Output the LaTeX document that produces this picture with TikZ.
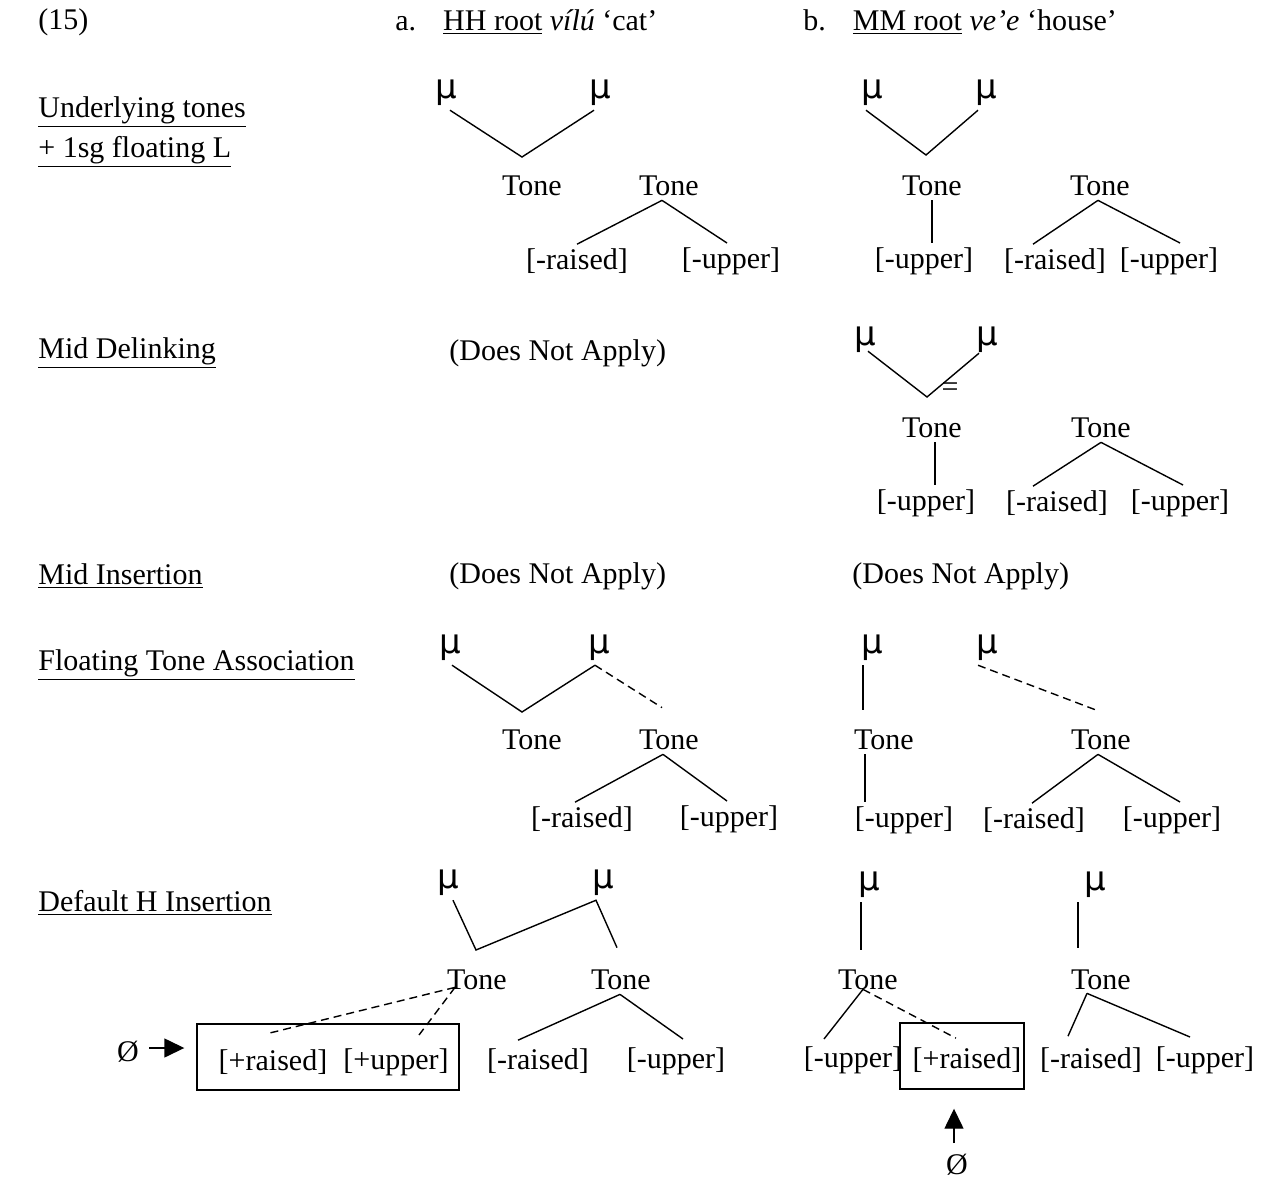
\documentclass[tikz,border=0pt]{standalone}
\usepackage{fontspec}
\setmainfont{Liberation Serif}
\newfontfamily\mufont{DejaVu Sans}
\usetikzlibrary{arrows.meta}

\tikzset{
	gloss/.style={font=\fontsize{15pt}{17pt}\selectfont,inner sep=2pt},
	mu/.style={font=\mufont\fontsize{17pt}{17pt}\selectfont,inner sep=2pt},
	link/.style={line width=0.7pt},
	assoc/.style={line width=0.7pt,dash pattern=on 4pt off 2.5pt},
	boxed/.style={draw,line width=0.7pt,minimum height=33pt},
	nullarrow/.style={line width=0.7pt,-{Triangle[length=10pt,width=9.5pt]}}
}

\begin{document}
\begin{tikzpicture}[x=0.5pt,y=-0.5pt,every node/.style={gloss}]
	\useasboundingbox (0,0) rectangle (1270,1183);
	% header
	\node[anchor=west] (ex) at (34,22) {(15)};
	\node[anchor=west] (hda) at (391,22) {a.\hspace{13.5pt}\underline{HH root} \textit{vílú} ‘cat’};
	\node[anchor=west] (hdb) at (799,22) {b.\hspace{13.5pt}\underline{MM root} \textit{ve’e} ‘house’};
	% rule names
	\node[anchor=west] (r1a) at (34,112) {\underline{Underlying tones}};
	\node[anchor=west] (r1b) at (34,152) {\underline{+ 1sg floating L}};
	\node[anchor=west] (r2) at (34,353) {\underline{Mid Delinking}};
	\node[anchor=west] (r3) at (34,576) {\underline{Mid Insertion}};
	\node[anchor=west] (r4) at (34,665) {\underline{Floating Tone Association}};
	\node[anchor=west] (r5) at (34,903) {\underline{Default H Insertion}};
	\node[anchor=west] (dna1) at (445,353) {(Does Not Apply)};
	\node[anchor=west] (dna2) at (445,576) {(Does Not Apply)};
	\node[anchor=west] (dna3) at (848,576) {(Does Not Apply)};

	% underlying tones, a
	\node[mu] (m1a) at (446,93) {μ};
	\node[mu] (m1b) at (600,93) {μ};
	\coordinate (v1) at (522,157);
	\node (t1a) at (532,186) {Tone};
	\node (t1b) at (669,186) {Tone};
	\node (f1a) at (577,261) {[-raised]};
	\node (f1b) at (731,261) {[-upper]};
	\draw[link] ([xshift=2pt]m1a.south) -- (v1) -- ([xshift=-3pt]m1b.south);
	\draw[link] ([xshift=-3.5pt]t1b.south) -- (f1a.north);
	\draw[link] ([xshift=-3.5pt]t1b.south) -- ([xshift=-2pt]f1b.north);
	% underlying tones, b
	\node[mu] (m1c) at (872,93) {μ};
	\node[mu] (m1d) at (986,93) {μ};
	\coordinate (v2) at (926,155);
	\node (t1c) at (932,186) {Tone};
	\node (t1d) at (1100,186) {Tone};
	\node (f1c) at (924,261) {[-upper]};
	\node (f1d) at (1055,261) {[-raised]};
	\node (f1e) at (1169,261) {[-upper]};
	\draw[link] ([xshift=-3pt]m1c.south) -- (v2) -- ([xshift=-4pt]m1d.south);
	\draw[link] (t1c.south) -- (t1c.south |- f1c.north);
	\draw[link] ([xshift=-1pt]t1d.south) -- ([xshift=-11pt]f1d.north);
	\draw[link] ([xshift=-1pt]t1d.south) -- ([xshift=5.5pt]f1e.north);

	% mid delinking, b
	\node[mu] (m2c) at (865,340) {μ};
	\node[mu] (m2d) at (987,340) {μ};
	\coordinate (v3) at (927,397);
	\node[inner sep=0pt] (cut) at (950,390) {=};
	\node (t2c) at (932,428) {Tone};
	\node (t2d) at (1101,428) {Tone};
	\node (f2c) at (926,503) {[-upper]};
	\node (f2d) at (1057,503) {[-raised]};
	\node (f2e) at (1180,503) {[-upper]};
	\draw[link] ([xshift=1.5pt,yshift=3pt]m2c.south) -- (v3) -- ([xshift=-4pt,yshift=2pt]m2d.south);
	\draw[link] ([xshift=1.5pt]t2c.south) -- ([xshift=1.5pt]t2c.south |- f2c.north);
	\draw[link] (t2d.south) -- ([xshift=-12pt]f2d.north);
	\draw[link] (t2d.south) -- ([xshift=1.5pt]f2e.north);

	% floating tone association, a
	\node[mu] (m4a) at (450,648) {μ};
	\node[mu] (m4b) at (599,648) {μ};
	\coordinate (v4) at (522,712);
	\node (t4a) at (532,740) {Tone};
	\node (t4b) at (669,740) {Tone};
	\node (f4a) at (582,819) {[-raised]};
	\node (f4b) at (729,819) {[-upper]};
	\draw[link] ([xshift=1pt]m4a.south) -- (v4) -- ([xshift=-2pt]m4b.south);
	\draw[assoc] ([xshift=-2pt]m4b.south) -- ([xshift=-3.5pt,yshift=9pt]t4b.north);
	\draw[link] ([xshift=-3pt]t4b.south) -- ([xshift=-3.5pt]f4a.north);
	\draw[link] ([xshift=-3pt]t4b.south) -- ([xshift=-1pt]f4b.north);
	% floating tone association, b
	\node[mu] (m4c) at (872,648) {μ};
	\node[mu] (m4d) at (987,648) {μ};
	\node (t4c) at (884,740) {Tone};
	\node (t4d) at (1101,740) {Tone};
	\node (f4c) at (904,820) {[-upper]};
	\node (f4d) at (1034,820) {[-raised]};
	\node (f4e) at (1172,820) {[-upper]};
	\draw[link] ([xshift=-4.5pt]m4c.south) -- ([xshift=-10.5pt,yshift=8pt]t4c.north);
	\draw[assoc] ([xshift=-4.5pt]m4d.south) -- ([xshift=-3pt,yshift=8pt]t4d.north);
	\draw[link] ([xshift=-9.5pt]t4c.south) -- ([xshift=-9.5pt]t4c.south |- f4c.north);
	\draw[link] ([xshift=-1.5pt]t4d.south) -- ([xshift=-1pt]f4d.north);
	\draw[link] ([xshift=-1.5pt]t4d.south) -- ([xshift=4pt]f4e.north);

	% default H insertion, a
	\node[mu] (m5a) at (448,883) {μ};
	\node[mu] (m5b) at (603,883) {μ};
	\coordinate (v5) at (476,950);
	\node (t5a) at (477,980) {Tone};
	\node (t5b) at (621,980) {Tone};
	\node[boxed,minimum width=131pt] (boxa) at (328,1057) {};
	\node (p5a) at (273,1062) {[+raised]};
	\node (p5b) at (396,1062) {[+upper]};
	\node (f5c) at (538,1061) {[-raised]};
	\node (f5d) at (676,1061) {[-upper]};
	\node (nul1) at (128,1052) {Ø};
	\draw[link] ([xshift=2.5pt]m5a.south) -- (v5) -- ([xshift=-3.5pt]m5b.south) -- ([xshift=-2pt,yshift=9pt]t5b.north);
	\draw[assoc] ([xshift=-11pt,yshift=3.5pt]t5a.south) -- ([xshift=-2pt,yshift=6pt]p5a.north);
	\draw[assoc] ([xshift=-11pt,yshift=3.5pt]t5a.south) -- ([xshift=11.5pt,yshift=4.5pt]p5b.north);
	\draw[link] ([xshift=-0.5pt]t5b.south) -- ([xshift=-10pt,yshift=2pt]f5c.north);
	\draw[link] ([xshift=-0.5pt]t5b.south) -- ([xshift=3.5pt,yshift=2pt]f5d.north);
	\draw[nullarrow] ([xshift=3pt,yshift=2pt]nul1.east) -- ([xshift=-6pt,yshift=4.5pt]boxa.west);
	% default H insertion, b
	\node[mu] (m5c) at (869,885) {μ};
	\node[mu] (m5d) at (1095,885) {μ};
	\node (t5c) at (868,980) {Tone};
	\node (t5d) at (1101,980) {Tone};
	\node[boxed,minimum width=62pt] (boxb) at (962,1056) {};
	\node (f5e) at (853,1060) {[-upper]};
	\node (p5c) at (967,1060) {[+raised]};
	\node (f5g) at (1091,1060) {[-raised]};
	\node (f5h) at (1205,1060) {[-upper]};
	\node (nul2) at (957,1165) {Ø};
	\draw[link] ([xshift=-4pt]m5c.south) -- ([xshift=-3.5pt,yshift=8pt]t5c.north);
	\draw[link] ([xshift=-8.5pt]m5d.south) -- ([xshift=-11.5pt,yshift=9pt]t5d.north);
	\draw[link] ([xshift=-2.5pt,yshift=2.5pt]t5c.south) -- ([xshift=-14.5pt,yshift=1.5pt]f5e.north);
	\draw[assoc] ([xshift=-2.5pt,yshift=2.5pt]t5c.south) -- ([xshift=-5.5pt,yshift=2.5pt]p5c.north);
	\draw[link] ([xshift=-7pt,yshift=0.5pt]t5d.south) -- ([xshift=-11.5pt,yshift=3.5pt]f5g.north);
	\draw[link] ([xshift=-7pt,yshift=0.5pt]t5d.south) -- ([xshift=-7.5pt,yshift=2.5pt]f5h.north);
	\draw[nullarrow] ([xshift=-1.5pt,yshift=3.5pt]nul2.north) -- ([xshift=-4pt,yshift=-9.5pt]boxb.south);
\end{tikzpicture}
\end{document}
